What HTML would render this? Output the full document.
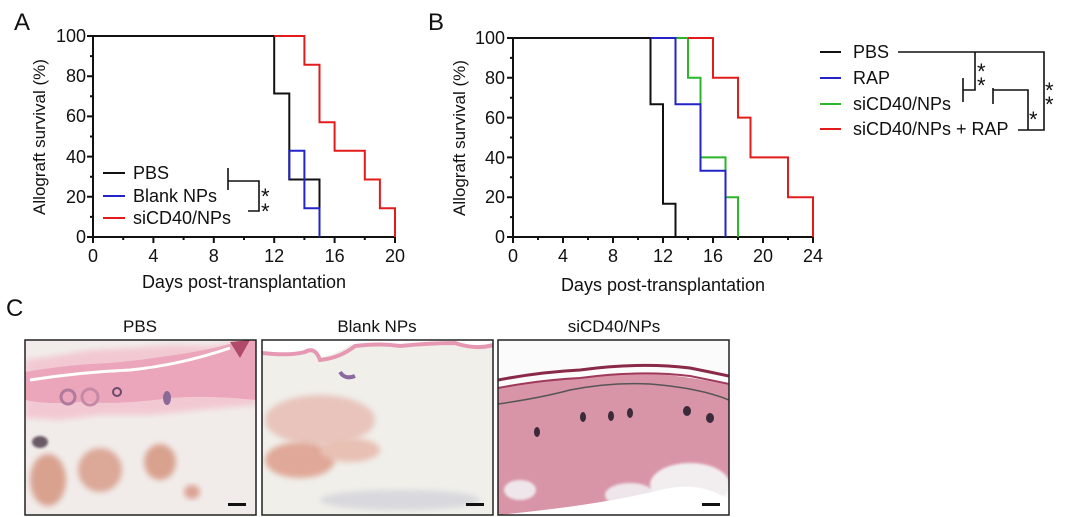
<!DOCTYPE html>
<html><head><meta charset="utf-8"><style>
html,body{margin:0;padding:0;background:#fff;width:1080px;height:517px;overflow:hidden}
svg{display:block}
text{font-family:"Liberation Sans",Arial,sans-serif;fill:#111}
</style></head><body>
<svg width="1080" height="517" viewBox="0 0 1080 517" xmlns="http://www.w3.org/2000/svg">
<defs>
<filter id="bl" x="-20%" y="-20%" width="140%" height="140%"><feGaussianBlur stdDeviation="3"/></filter>
<filter id="bl2" x="-20%" y="-20%" width="140%" height="140%"><feGaussianBlur stdDeviation="1.2"/></filter>
<clipPath id="c1"><rect x="25" y="340" width="231" height="175"/></clipPath>
<clipPath id="c2"><rect x="262" y="340" width="231" height="175"/></clipPath>
<clipPath id="c3"><rect x="498" y="340" width="231" height="175"/></clipPath>
</defs>

<!-- Panel A -->
<text x="14" y="30" font-size="24">A</text>
<g stroke="#111" stroke-width="2" fill="none">
<path d="M93 36 V237 H395"/>
<path d="M87 36H93M87 76.2H93M87 116.4H93M87 156.6H93M87 196.8H93M87 237H93"/>
<path d="M90 56.1H93M90 96.3H93M90 136.5H93M90 176.7H93M90 216.9H93"/>
<path d="M93 237V243M153.4 237V243M213.8 237V243M274.2 237V243M334.6 237V243M395 237V243"/>
<path d="M123.2 237V240M183.6 237V240M244 237V240M304.4 237V240M364.8 237V240"/>
</g>
<g font-size="18" text-anchor="end">
<text x="86" y="42">100</text><text x="86" y="82">80</text><text x="86" y="122">60</text><text x="86" y="163">40</text><text x="86" y="203">20</text><text x="86" y="243">0</text>
</g>
<g font-size="18" text-anchor="middle">
<text x="93" y="262">0</text><text x="153.4" y="262">4</text><text x="213.8" y="262">8</text><text x="274.2" y="262">12</text><text x="334.6" y="262">16</text><text x="395" y="262">20</text>
<text x="244" y="288">Days post-transplantation</text>
</g>
<text transform="translate(45 137) rotate(-90)" font-size="17" text-anchor="middle">Allograft survival (%)</text>
<g fill="none" stroke-width="2">
<path d="M93 36H274.2V93.5H289.3V179.5H319.5V237" stroke="#111"/>
<path d="M289.3 179.5V150.8H304.4V208.3H319.5V237" stroke="#2323c8"/>
<path d="M274.2 36H304.4V64.7H319.5V122.2H334.6V150.8H364.8V179.5H379.9V208.3H395V237" stroke="#e21b1b"/>
</g>
<g stroke-width="2">
<line x1="103" y1="173" x2="125" y2="173" stroke="#111"/>
<line x1="103" y1="196" x2="125" y2="196" stroke="#2323c8"/>
<line x1="103" y1="218" x2="125" y2="218" stroke="#e21b1b"/>
</g>
<g font-size="18"><text x="133" y="179">PBS</text><text x="133" y="202">Blank NPs</text><text x="133" y="224">siCD40/NPs</text></g>
<path d="M228 168V190M228 181H259V211H248" stroke="#111" stroke-width="1.6" fill="none"/>
<text x="261" y="204" font-size="22">*</text><text x="261" y="219" font-size="22">*</text>

<!-- Panel B -->
<text x="428" y="30" font-size="24">B</text>
<g stroke="#111" stroke-width="2" fill="none">
<path d="M513 38 V237 H813"/>
<path d="M507 38H513M507 77.8H513M507 117.6H513M507 157.4H513M507 197.2H513M507 237H513"/>
<path d="M510 57.9H513M510 97.7H513M510 137.5H513M510 177.3H513M510 217.1H513"/>
<path d="M513 237V243M563 237V243M613 237V243M663 237V243M713 237V243M763 237V243M813 237V243"/>
<path d="M538 237V240M588 237V240M638 237V240M688 237V240M738 237V240M788 237V240"/>
</g>
<g font-size="18" text-anchor="end">
<text x="505" y="44">100</text><text x="505" y="84">80</text><text x="505" y="124">60</text><text x="505" y="164">40</text><text x="505" y="203">20</text><text x="505" y="243">0</text>
</g>
<g font-size="18" text-anchor="middle">
<text x="513" y="262">0</text><text x="563" y="262">4</text><text x="613" y="262">8</text><text x="663" y="262">12</text><text x="713" y="262">16</text><text x="763" y="262">20</text><text x="813" y="262">24</text>
<text x="663" y="291">Days post-transplantation</text>
</g>
<text transform="translate(465 138) rotate(-90)" font-size="17" text-anchor="middle">Allograft survival (%)</text>
<g fill="none" stroke-width="2">
<path d="M513 38H650.5V104.3H663V203.8H675.5V237" stroke="#111"/>
<path d="M675.5 38H688V77.8H700.5V157.4H725.5V197.2H738V237" stroke="#2ab52a"/>
<path d="M650.5 38H675.5V104.3H700.5V170.7H725.5V237" stroke="#2323c8"/>
<path d="M688 38H713V77.8H738V117.6H750.5V157.4H788V197.2H813V237" stroke="#e21b1b"/>
</g>
<g stroke-width="2">
<line x1="820" y1="52" x2="841" y2="52" stroke="#111"/>
<line x1="820" y1="78" x2="841" y2="78" stroke="#2323c8"/>
<line x1="820" y1="104" x2="841" y2="104" stroke="#2ab52a"/>
<line x1="820" y1="129" x2="841" y2="129" stroke="#e21b1b"/>
</g>
<g font-size="18"><text x="853" y="58">PBS</text><text x="853" y="84">RAP</text><text x="853" y="110">siCD40/NPs</text><text x="853" y="135">siCD40/NPs + RAP</text></g>
<path d="M898 52H1044V130H1018M975 52V90H963M963 78V102M993 88V104M993 90H1028V130" stroke="#111" stroke-width="1.6" fill="none"/>
<text x="977" y="79" font-size="22">*</text><text x="977" y="93" font-size="22">*</text>
<text x="1029" y="127" font-size="22">*</text>
<text x="1045" y="98" font-size="22">*</text><text x="1045" y="112" font-size="22">*</text>

<!-- Panel C -->
<text x="6" y="316" font-size="24">C</text>
<g font-size="17" text-anchor="middle"><text x="140" y="332">PBS</text><text x="377" y="332">Blank NPs</text><text x="614" y="332">siCD40/NPs</text></g>

<g clip-path="url(#c1)">
<rect x="25" y="340" width="231" height="175" fill="#f1ecea"/>
<path d="M25 360 L60 355 L90 350 L130 348 L170 345 L210 346 L256 340 V405 L200 410 L150 415 L100 415 L60 420 L25 418Z" fill="#f2c9d2" filter="url(#bl)"/>
<path d="M25 372 Q60 366 90 364 Q130 362 160 357 Q200 352 230 344 L256 340 V400 Q210 395 170 398 Q120 405 80 402 Q50 405 25 400Z" fill="#eba6bb"/>
<path d="M30 380 Q80 372 130 370 Q180 365 230 348" stroke="#fff" stroke-width="3" fill="none"/>
<circle cx="68" cy="397" r="7" fill="none" stroke="#b07a9c" stroke-width="3"/>
<circle cx="90" cy="397" r="8" fill="none" stroke="#c58aa6" stroke-width="3"/>
<circle cx="117" cy="392" r="4" fill="none" stroke="#6a4a70" stroke-width="2"/>
<ellipse cx="167" cy="398" rx="4" ry="7" fill="#8b6a98"/>
<path d="M230 342 L250 340 L240 358Z" fill="#b04a6a"/>
<ellipse cx="100" cy="470" rx="22" ry="22" fill="#dca898" filter="url(#bl)"/>
<ellipse cx="48" cy="480" rx="18" ry="26" fill="#d9a28f" filter="url(#bl)"/>
<ellipse cx="160" cy="462" rx="16" ry="18" fill="#d9a28f" filter="url(#bl)"/>
<ellipse cx="192" cy="492" rx="8" ry="7" fill="#dba293" filter="url(#bl)"/>
<ellipse cx="40" cy="442" rx="8" ry="6" fill="#6b5a66" filter="url(#bl2)"/>
<rect x="228" y="503" width="18" height="3" fill="#111"/>
</g>
<rect x="25" y="340" width="231" height="175" fill="none" stroke="#222" stroke-width="1.5"/>

<g clip-path="url(#c2)">
<rect x="262" y="340" width="231" height="175" fill="#f0efea"/>
<path d="M262 352 Q285 353 300 352 Q312 346 318 358 Q335 355 350 345 Q370 343 395 345 Q420 342 450 342 Q470 348 493 343 V340 H262Z" fill="#fff"/>
<path d="M262 353 Q290 356 305 352 Q315 346 320 360 Q340 358 355 346 Q380 343 400 346 Q430 343 455 343 Q475 350 493 345" stroke="#e698b2" stroke-width="4" fill="none"/>
<path d="M340 372 Q345 380 355 376" stroke="#8a6aa0" stroke-width="4" fill="none"/>
<ellipse cx="320" cy="420" rx="55" ry="25" fill="#e8c4bc" filter="url(#bl)"/>
<ellipse cx="300" cy="460" rx="35" ry="18" fill="#e0a898" filter="url(#bl)"/>
<ellipse cx="350" cy="450" rx="30" ry="12" fill="#e8c0b4" filter="url(#bl)"/>
<ellipse cx="400" cy="500" rx="80" ry="10" fill="#d8d8de" filter="url(#bl)"/>
<rect x="466" y="503" width="18" height="3" fill="#111"/>
</g>
<rect x="262" y="340" width="231" height="175" fill="none" stroke="#222" stroke-width="1.5"/>

<g clip-path="url(#c3)">
<rect x="498" y="340" width="231" height="175" fill="#fbfbfb"/>
<path d="M498 387 Q560 380 600 375 Q650 368 729 385 V485 Q690 465 640 495 Q600 515 560 510 L498 515Z" fill="#d995a8"/>
<path d="M498 380 Q540 372 580 370 Q640 362 690 368 Q710 372 729 376" stroke="#8a2a48" stroke-width="3" fill="none"/>
<path d="M498 388 Q540 380 580 378 Q640 370 690 376 Q710 380 729 384" stroke="#a03a5a" stroke-width="2" fill="none"/>
<path d="M498 404 Q540 398 570 390 Q610 382 650 384 Q700 388 729 400" stroke="#555" stroke-width="1.5" fill="none"/>
<ellipse cx="690" cy="485" rx="40" ry="22" fill="#f2eef0" filter="url(#bl2)"/>
<ellipse cx="630" cy="495" rx="25" ry="12" fill="#eee6ea" filter="url(#bl2)"/>
<ellipse cx="520" cy="490" rx="16" ry="10" fill="#eee6ea" filter="url(#bl2)"/>
<path d="M498 515 Q600 505 660 490 Q700 480 729 500 V517 H498Z" fill="#fff"/>
<g fill="#3a2a3a"><ellipse cx="537" cy="432" rx="3" ry="5"/><ellipse cx="583" cy="417" rx="3" ry="5"/><ellipse cx="611" cy="416" rx="3" ry="5"/><ellipse cx="630" cy="413" rx="3" ry="5"/><ellipse cx="687" cy="411" rx="4" ry="5"/><ellipse cx="710" cy="418" rx="4" ry="5"/></g>
<rect x="702" y="503" width="18" height="3" fill="#111"/>
</g>
<rect x="498" y="340" width="231" height="175" fill="none" stroke="#222" stroke-width="1.5"/>
</svg>
</body></html>
